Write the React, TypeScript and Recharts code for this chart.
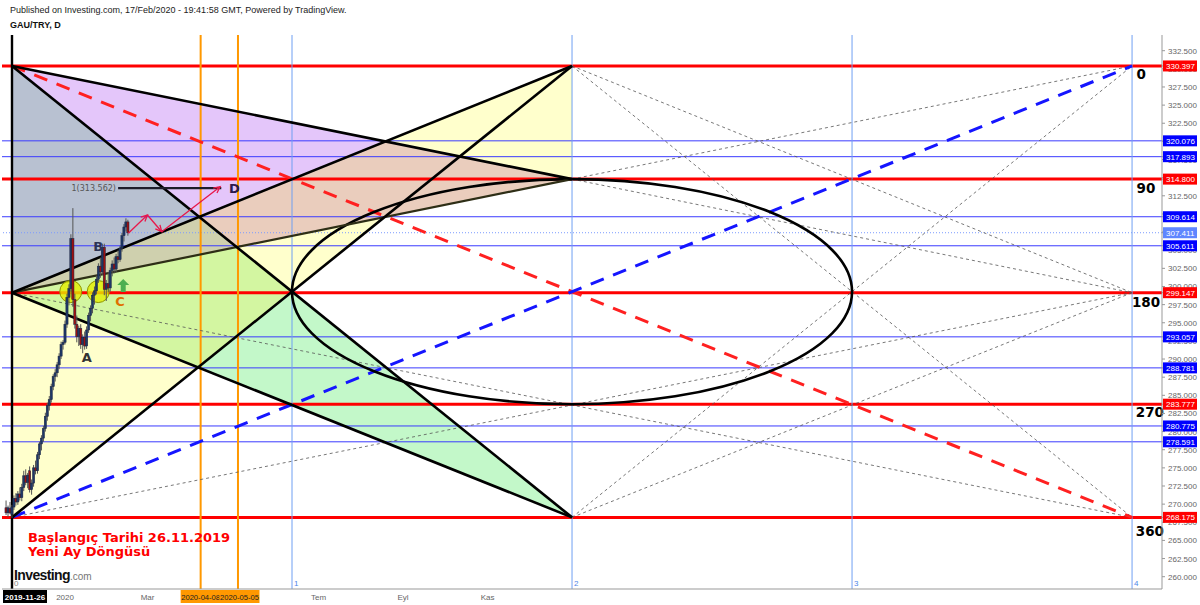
import React from 'react';
import {
  ComposedChart,
  XAxis,
  YAxis,
  Bar,
  Scatter,
  ReferenceLine,
  ReferenceArea,
  ReferenceDot,
} from 'recharts';

// Daily candles, x = trading-day index counted from 2019-11-26
const barIdx = [
  -3, -2, -1, 0, 1, 2, 3, 4, 5, 6, 7, 8, 9, 10, 11, 12, 13, 14, 15, 16, 17, 18, 19, 20,
  21, 22, 23, 24, 25, 26, 27, 28, 29, 30, 31, 32, 33, 34, 35, 36, 37, 38, 39, 40, 41, 42,
  43, 44, 45, 46, 47, 48, 49, 50, 51, 52, 53, 54, 55, 56, 57, 58, 59,
];
const opens = [
  269.5, 268.8, 269.4, 268.6, 269.6, 270.8, 270.3, 271.4, 270.9, 272.3, 273.9, 273.0, 274.6,
  272.0, 272.9, 275.0, 274.6, 276.8, 278.3, 279.1, 280.4, 282.1, 283.6, 284.4, 286.2, 287.6,
  288.1, 289.2, 290.4, 292.0, 292.3, 294.8, 298.5, 299.7, 306.6, 298.2, 294.8, 293.1, 294.2,
  292.0, 293.0, 291.8, 294.0, 296.0, 297.0, 298.8, 299.4, 301.0, 302.8, 302.0, 305.4, 299.6,
  300.4, 299.8, 302.2, 303.1, 302.4, 304.1, 303.7, 305.3, 307.0, 308.2, 308.9,
];
const highs = [
  270.5, 269.8, 270.3, 269.9, 271.2, 271.5, 271.8, 272.3, 272.8, 274.6, 274.8, 274.3, 275.2,
  273.4, 275.4, 276.0, 277.2, 278.6, 279.5, 280.8, 282.6, 284.0, 284.9, 286.6, 287.9, 288.6,
  289.6, 290.8, 292.4, 292.6, 295.3, 299.0, 300.3, 307.2, 310.8, 299.0, 296.0, 294.6, 294.8,
  293.4, 293.8, 294.5, 296.4, 297.4, 299.2, 300.0, 301.5, 303.2, 304.0, 305.9, 305.9, 300.9,
  302.0, 302.6, 303.6, 304.0, 304.5, 305.0, 305.6, 307.4, 308.6, 309.4, 309.2,
];
const lows = [
  268.5, 268.2, 268.6, 268.1, 269.2, 269.8, 269.9, 270.5, 270.4, 271.8, 272.6, 272.2, 271.6,
  271.3, 272.4, 274.1, 274.2, 276.2, 277.4, 278.6, 280.0, 281.5, 282.9, 284.0, 285.7, 286.9,
  287.5, 288.6, 290.0, 291.3, 292.0, 294.3, 297.4, 299.3, 297.2, 294.2, 292.3, 291.8, 291.4,
  290.8, 291.3, 291.4, 293.6, 295.2, 296.3, 297.5, 298.9, 300.5, 301.2, 301.6, 298.8, 298.0,
  299.2, 299.3, 301.4, 301.8, 302.0, 303.2, 303.4, 304.8, 306.2, 307.6, 307.0,
];
const closes = [
  268.8, 269.5, 268.8, 269.6, 270.8, 270.3, 271.4, 270.9, 272.3, 273.9, 273.0, 274.0, 272.0,
  272.9, 275.0, 274.6, 276.8, 278.3, 279.1, 280.4, 282.1, 283.6, 284.4, 286.2, 287.6, 288.1,
  289.2, 290.4, 292.0, 292.3, 294.8, 298.5, 299.7, 306.6, 298.2, 294.8, 293.1, 294.2, 292.0,
  293.0, 291.8, 294.0, 296.0, 297.0, 298.8, 299.4, 301.0, 302.8, 302.0, 305.4, 299.6, 300.4,
  299.8, 302.2, 303.1, 302.4, 304.1, 303.7, 305.3, 307.0, 308.2, 308.9, 307.4,
];

// Price levels
const redLevels = [330.397, 314.8, 299.147, 283.777, 268.175];
const blueLevels = [320.076, 317.893, 309.614, 305.611, 293.057, 288.781, 280.775, 278.591];
const lastPrice = 307.411;
const degreeNames = ['0', '90', '180', '270', '360'];

// Time markers (trading-day index)
const cycleBars = [0, 142.5, 285, 427.5, 570];
const cycleNames = ['0', '1', '2', '3', '4'];
const orangeBars = [96, 115];
const orangeDates = ['2020-04-08', '2020-05-05'];
const monthBars = [27, 69, 156, 199, 242];
const monthNames = ['2020', 'Mar', 'Tem', 'Eyl', 'Kas'];

const yTicks = [
  260, 262.5, 265, 267.5, 270, 272.5, 275, 277.5, 280, 282.5, 285, 287.5, 290, 292.5, 295,
  297.5, 300, 302.5, 305, 307.5, 310, 312.5, 315, 317.5, 320, 322.5, 325, 327.5, 330, 332.5,
];

// Drawing anchor points [bar, price]
const pA = [0, 330.397];
const pB = [0, 299.147];
const pC = [0, 268.175];
const pD = [285, 330.397];
const pE = [285, 314.8];
const pG = [285, 268.175];
const pP = [95.3, 309.6];
const pQ = [114.4, 305.43];
const pR = [190.1, 319.99];
const pS = [189.6, 309.56];
const pT = [94.4, 288.79];
const pX = [142.5, 299.29];
const endTop = [570, 330.397];
const endMid = [570, 299.147];
const endBot = [570, 268.175];

const grayRegion = [pA, pP, pB];
const purpleRegion = [pA, pR, pP];
const oliveRegion = [pB, pP, pQ];
const peachRegion = [pP, pR, pE, pQ];
const yellowTop = [pR, pD, pE];
const yellowMid = [pQ, pX, pS];
const limeRegion = [pB, pQ, pX, pT];
const yellowLow = [pB, pT, pC];
const greenRegion = [pT, pX, pG];

const thickLines = [[pA, pG], [pC, pD], [pA, pE], [pB, pD], [pB, pG]];
const oliveLines = [[pB, pE]];
const thinDashed = [
  [pB, endBot], [pC, endMid], [pD, endBot], [pG, endTop],
  [pD, endMid], [pG, endMid], [pE, endMid], [pE, endTop],
];
const arrowPath = [[59.2, 307.33], [68.9, 309.85], [76.2, 307.55], [105.9, 313.75]];

const candles = barIdx.map((x, i) => ({
  x,
  o: opens[i],
  h: highs[i],
  l: lows[i],
  c: closes[i],
}));

const boxLevels = [
  ...redLevels.map((v) => ({ v, bg: '#ff0000' })),
  ...blueLevels.map((v) => ({ v, bg: '#0000ff' })),
  { v: lastPrice, bg: '#5f86ff' },
];

const FONT = '"Liberation Sans", Arial, sans-serif';
const BOLD = '"DejaVu Sans", Verdana, sans-serif';

const toXY = (pts: number[][]) => pts.map(([x, y]) => ({ x, y }));
const seg = (a: number[], b: number[]) => [{ x: a[0], y: a[1] }, { x: b[0], y: b[1] }];

const noDot = () => <g />;
const polyFill = (fill: string) => (p: any) =>
  <polygon points={(p.points || []).map((q: any) => `${q.x},${q.y}`).join(' ')} fill={fill} stroke="none" />;

const Candle = (p: any) => {
  const { x, y, width, height, payload } = p;
  if (!payload) return <g />;
  const top = Math.min(y, y + height);
  const hh = Math.abs(height);
  const k = hh / (payload.h - payload.l || 1);
  const up = payload.c >= payload.o;
  const bTop = top + (payload.h - Math.max(payload.o, payload.c)) * k;
  const bH = Math.max(1, Math.abs(payload.o - payload.c) * k);
  const cx = x + width / 2;
  return (
    <g>
      <line x1={cx} x2={cx} y1={top} y2={top + hh} stroke="#555" strokeWidth={1} />
      <rect x={cx - 1.1} y={bTop} width={2.2} height={bH} fill={up ? '#1e3766' : '#9e1111'} stroke="#1b2540" strokeWidth={0.5} />
    </g>
  );
};

const Arrow = (p: any) => {
  const { x1, y1, x2, y2 } = p;
  const a = Math.atan2(y2 - y1, x2 - x1);
  const s = 7;
  const h1 = `${x2 - s * Math.cos(a - 0.45)},${y2 - s * Math.sin(a - 0.45)}`;
  const h2 = `${x2 - s * Math.cos(a + 0.45)},${y2 - s * Math.sin(a + 0.45)}`;
  return (
    <g stroke="#e8174a" strokeWidth={1.3} fill="none">
      <line x1={x1} y1={y1} x2={x2} y2={y2} />
      <polyline points={`${h1} ${x2},${y2} ${h2}`} />
    </g>
  );
};

const EllipseShape = (p: any) => (
  <ellipse
    cx={p.x + p.width / 2}
    cy={p.y + p.height / 2}
    rx={Math.abs(p.width) / 2}
    ry={Math.abs(p.height) / 2}
    fill="none"
    stroke="#000"
    strokeWidth={2.6}
  />
);

const textShape = (label: string, style: any) => (p: any) =>
  <text x={p.cx} y={p.cy} {...style}>{label}</text>;

const GreenArrow = (p: any) => {
  const { cx, cy } = p;
  return (
    <path
      d={`M${cx},${cy - 7} L${cx + 6},${cy - 1} L${cx + 2.5},${cy - 1} L${cx + 2.5},${cy + 6} L${cx - 2.5},${cy + 6} L${cx - 2.5},${cy - 1} L${cx - 6},${cy - 1} Z`}
      fill="#4caf50"
    />
  );
};

const YTick = (p: any) => {
  const v = p.payload.value;
  const box = boxLevels.find((b) => Math.abs(b.v - v) < 1e-6);
  if (box) {
    return (
      <g>
        <rect x={1163} y={p.y - 5.5} width={34} height={11} fill={box.bg} />
        <text x={1166} y={p.y + 3} fontSize={8} fontFamily={FONT} fill="#fff">{v.toFixed(3)}</text>
      </g>
    );
  }
  return (
    <text x={1168} y={p.y + 3} fontSize={8} fontFamily={FONT} fill="#666">{v.toFixed(3)}</text>
  );
};

const XTick = (p: any) => {
  const v = p.payload.value;
  if (v === 0) {
    return (
      <g>
        <rect x={3} y={590} width={44} height={13} fill="#000" />
        <text x={25} y={600} textAnchor="middle" fontSize={8} fontFamily={FONT} fontWeight="bold" fill="#fff">2019-11-26</text>
      </g>
    );
  }
  const oi = orangeBars.indexOf(v);
  if (oi >= 0) {
    return (
      <g>
        <rect x={p.x - 20 + oi * 1.5} y={590} width={40} height={13} fill="#ff9800" />
        <text x={p.x + oi * 1.5} y={600} textAnchor="middle" fontSize={7.6} fontFamily={FONT} fill="#222">{orangeDates[oi]}</text>
      </g>
    );
  }
  const mi = monthBars.indexOf(v);
  return (
    <text x={p.x} y={600} textAnchor="middle" fontSize={8} fontFamily={FONT} fill="#666">
      {mi >= 0 ? monthNames[mi] : ''}
    </text>
  );
};

const degreeSpots = [
  [574.6, 329.29], [577.1, 313.57], [577.1, 297.86], [579.1, 282.7], [579.1, 266.3],
];

const App = () => {
  const regions: [number[][], string][] = [
    [grayRegion, '#b8c1d1'],
    [purpleRegion, '#e4c6fa'],
    [oliveRegion, '#cfd0ae'],
    [peachRegion, '#eacdbd'],
    [yellowTop, '#ffffcc'],
    [yellowMid, '#ffffcc'],
    [limeRegion, '#d3f6a1'],
    [yellowLow, '#ffffcc'],
    [greenRegion, '#c3f8c9'],
  ];

  return (
    <div style={{ position: 'absolute', left: 0, top: 0, width: 1200, height: 605, background: '#fff' }}>
      <div style={{ position: 'absolute', left: 10, top: 5, fontFamily: FONT, fontSize: 9, color: '#222', whiteSpace: 'nowrap' }}>
        Published on Investing.com, 17/Feb/2020 - 19:41:58 GMT, Powered by TradingView.
      </div>
      <div style={{ position: 'absolute', left: 10, top: 20, fontFamily: FONT, fontSize: 9, fontWeight: 'bold', color: '#111' }}>
        GAU/TRY, D
      </div>
      <ComposedChart
        width={1200}
        height={605}
        data={candles}
        margin={{ top: 35, right: 0, left: 2, bottom: 0 }}
        style={{ position: 'absolute', left: 0, top: 0 }}
      >
        <XAxis
          type="number"
          dataKey="x"
          domain={[-5.09, 585.24]}
          allowDataOverflow
          ticks={[0, ...monthBars, ...orangeBars]}
          interval={0}
          tick={XTick}
          tickLine={false}
          axisLine={{ stroke: '#999' }}
          height={16}
        />
        <YAxis
          type="number"
          dataKey="y"
          orientation="right"
          domain={[258.303, 334.664]}
          allowDataOverflow
          ticks={[...yTicks, ...redLevels, ...blueLevels, lastPrice]}
          interval={0}
          tick={YTick}
          tickSize={3}
          tickLine={{ stroke: '#999' }}
          axisLine={{ stroke: '#999' }}
          width={38}
        />

        {regions.map(([pts, fill], i) => (
          <Scatter
            key={'r' + i}
            data={toXY(pts)}
            line={polyFill(fill)}
            shape={noDot}
            isAnimationActive={false}
            zIndex={50}
          />
        ))}

        {blueLevels.map((v) => (
          <ReferenceLine key={'b' + v} y={v} stroke="#3b3bff" strokeWidth={1} zIndex={100} />
        ))}
        <ReferenceLine y={lastPrice} stroke="#7b9cff" strokeWidth={1} strokeDasharray="1 2" zIndex={100} />
        {redLevels.map((v) => (
          <ReferenceLine key={'rl' + v} y={v} stroke="#ff0000" strokeWidth={3} zIndex={100} />
        ))}
        {cycleBars.map((b) => (
          <ReferenceLine key={'c' + b} x={b} stroke="#6f9ff2" strokeWidth={1} zIndex={100} />
        ))}
        {orangeBars.map((b) => (
          <ReferenceLine key={'o' + b} x={b} stroke="#ff9800" strokeWidth={2} zIndex={100} />
        ))}

        {thinDashed.map(([a, b], i) => (
          <ReferenceLine key={'d' + i} segment={seg(a, b)} stroke="#555" strokeWidth={0.8} strokeDasharray="3 3" zIndex={110} />
        ))}
        <ReferenceLine segment={seg(pA, endBot)} stroke="#ff2020" strokeWidth={3} strokeDasharray="14 10" zIndex={120} />
        <ReferenceLine segment={seg(pC, endTop)} stroke="#1515ff" strokeWidth={3} strokeDasharray="14 10" zIndex={120} />

        <ReferenceArea x1={cycleBars[1]} x2={cycleBars[3]} y1={redLevels[3]} y2={redLevels[1]} shape={EllipseShape} zIndex={130} />

        {oliveLines.map(([a, b], i) => (
          <ReferenceLine key={'ol' + i} segment={seg(a, b)} stroke="#2e2e16" strokeWidth={2.2} zIndex={140} />
        ))}
        {thickLines.map(([a, b], i) => (
          <ReferenceLine key={'t' + i} segment={seg(a, b)} stroke="#000" strokeWidth={2.6} zIndex={150} />
        ))}
        <ReferenceLine x={0} stroke="#000" strokeWidth={2.4} zIndex={150} />

        <ReferenceDot x={29.9} y={299.3} r={11} fill="#e3ee00" fillOpacity={0.8} stroke="#8f9400" strokeWidth={1} zIndex={160} />
        <ReferenceDot x={43.9} y={299.3} r={11} fill="#e3ee00" fillOpacity={0.8} stroke="#8f9400" strokeWidth={1} zIndex={160} />

        <Bar dataKey={(d: any) => [d.l, d.h]} barSize={2} shape={Candle} isAnimationActive={false} zIndex={200} />

        <ReferenceLine segment={[{ x: 54, y: 313.562 }, { x: 106.5, y: 313.562 }]} stroke="#1c1c2a" strokeWidth={2.2} zIndex={210} />
        {arrowPath.slice(1).map((q, i) => (
          <ReferenceLine key={'a' + i} segment={seg(arrowPath[i], q)} shape={Arrow} zIndex={220} />
        ))}

        <ReferenceDot x={56.6} y={300.07} r={6} shape={GreenArrow} zIndex={230} />
        <ReferenceDot x={52.9} y={313.562} r={1} shape={textShape('1(313.562)', { textAnchor: 'end', dy: 3, fontSize: 8, fontFamily: BOLD, fill: '#555' })} zIndex={230} />
        <ReferenceDot x={110.4} y={313.64} r={1} shape={textShape('D', { dy: 5, fontSize: 13, fontWeight: 'bold', fontFamily: BOLD, fill: '#2d1b4e' })} zIndex={230} />
        <ReferenceDot x={43.9} y={305.62} r={1} shape={textShape('B', { textAnchor: 'middle', dy: 5, fontSize: 13, fontWeight: 'bold', fontFamily: BOLD, fill: '#2c3355' })} zIndex={230} />
        <ReferenceDot x={38} y={290.32} r={1} shape={textShape('A', { textAnchor: 'middle', dy: 5, fontSize: 13, fontWeight: 'bold', fontFamily: BOLD, fill: '#333' })} zIndex={230} />
        <ReferenceDot x={54.96} y={298.04} r={1} shape={textShape('C', { textAnchor: 'middle', dy: 5, fontSize: 13, fontWeight: 'bold', fontFamily: BOLD, fill: '#e07000' })} zIndex={230} />

        {degreeSpots.map(([bx, py], i) => (
          <ReferenceDot key={'g' + i} x={bx} y={py} r={1} shape={textShape(degreeNames[i], { textAnchor: 'middle', dy: 5, fontSize: 13.5, fontWeight: 'bold', fontFamily: BOLD, fill: '#000' })} zIndex={230} />
        ))}
        {cycleBars.map((b, i) => (
          <ReferenceDot key={'cn' + i} x={b + 1} y={259.13} r={1} shape={textShape(cycleNames[i], { dy: 3, fontSize: 8, fontFamily: FONT, fill: i === 0 ? '#888' : '#4f86e8' })} zIndex={230} />
        ))}

        <ReferenceDot x={8.1} y={265.51} r={1} shape={textShape('Başlangıç Tarihi 26.11.2019', { dy: 5, fontSize: 13, fontWeight: 'bold', fontFamily: BOLD, fill: '#ff0000' })} zIndex={230} />
        <ReferenceDot x={8.1} y={263.58} r={1} shape={textShape('Yeni Ay Döngüsü', { dy: 5, fontSize: 13, fontWeight: 'bold', fontFamily: BOLD, fill: '#ff0000' })} zIndex={230} />
        <ReferenceDot x={1} y={260.23} r={1} shape={(p: any) => (
          <text x={p.cx} y={p.cy} dy={5} fontFamily={FONT}>
            <tspan fontSize={14} fontWeight="bold" fill="#111" letterSpacing={-0.6}>Investing</tspan>
            <tspan fontSize={10} fill="#777">.com</tspan>
          </text>
        )} zIndex={230} />
      </ComposedChart>
    </div>
  );
};

export default App;
